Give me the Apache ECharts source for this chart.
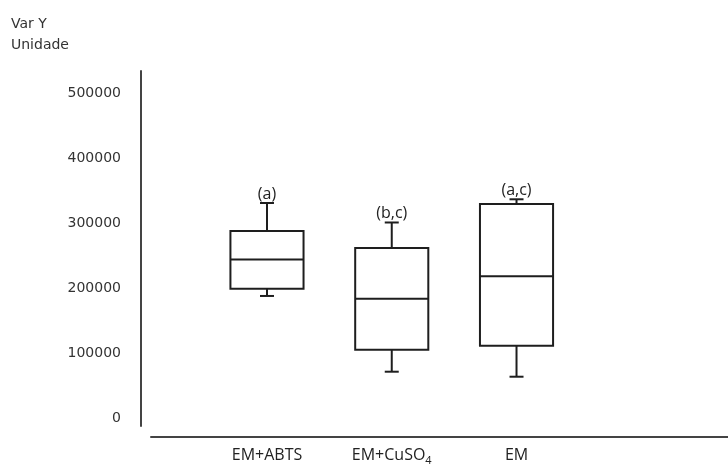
<!DOCTYPE html>
<html>
<head>
<meta charset="utf-8">
<script src="https://cdn.jsdelivr.net/npm/echarts@6/dist/echarts.min.js"></script>
<style>
  html, body { margin: 0; padding: 0; background: #fff; }
  #chart { width: 728px; height: 466px; }
</style>
</head>
<body>
<div id="chart"></div>
<script>
// Box-plot summaries per treatment
const categories   = ['EM+ABTS', 'EM+CuSO4', 'EM'];
const whiskerLow   = [188000, 71500, 63800];
const quartile1    = [199000, 105100, 111300];
const medians      = [244000, 183700, 218400];
const quartile3    = [288000, 261700, 329500];
const whiskerHigh  = [331000, 301000, 336700];
const groupLetters = ['(a)', '(b,c)', '(a,c)'];
const yTickValues  = [0, 100000, 200000, 300000, 400000, 500000];

const boxData = categories.map((c, i) => [
  i, whiskerLow[i], quartile1[i], medians[i], quartile3[i], whiskerHigh[i]
]);

const ink = '#1e1e1e';
const axisInk = '#444';

function renderBox(params, api) {
  const idx = params.dataIndex;
  const x = api.value(0);
  const pLow = api.coord([x, api.value(1)]);
  const pQ1 = api.coord([x, api.value(2)]);
  const pMed = api.coord([x, api.value(3)]);
  const pQ3 = api.coord([x, api.value(4)]);
  const pHigh = api.coord([x, api.value(5)]);
  const band = api.size([1, 0])[0];
  const half = band * 0.293;
  const cap = 7;
  const cx = pMed[0];
  const line = { stroke: ink, lineWidth: 2 };
  return {
    type: 'group',
    children: [
      { type: 'rect', shape: { x: cx - half, y: pQ3[1], width: half * 2, height: pQ1[1] - pQ3[1] },
        style: { stroke: ink, lineWidth: 2, fill: 'transparent' } },
      { type: 'line', shape: { x1: cx - half, y1: pMed[1], x2: cx + half, y2: pMed[1] }, style: line },
      { type: 'line', shape: { x1: cx, y1: pQ3[1], x2: cx, y2: pHigh[1] }, style: line },
      { type: 'line', shape: { x1: cx - cap, y1: pHigh[1], x2: cx + cap, y2: pHigh[1] }, style: line },
      { type: 'line', shape: { x1: cx, y1: pQ1[1], x2: cx, y2: pLow[1] }, style: line },
      { type: 'line', shape: { x1: cx - cap, y1: pLow[1], x2: cx + cap, y2: pLow[1] }, style: line },
      { type: 'text', x: cx, y: pHigh[1] - 1,
        style: { text: groupLetters[idx], align: 'center', verticalAlign: 'bottom',
                 fontFamily: 'Open Sans', fontSize: 16, fill: '#222' } }
    ]
  };
}

const chart = echarts.init(document.getElementById('chart'), null, { renderer: 'canvas' });
chart.setOption({
  animation: false,
  backgroundColor: '#fff',
  title: {
    text: 'Var Y\nUnidade',
    left: 11, top: 14, padding: 0,
    textStyle: { fontFamily: 'DejaVu Sans', fontSize: 14, fontWeight: 'normal', lineHeight: 21, color: '#333' }
  },
  grid: [
    { left: 204.6, right: 149.1, top: 71, bottom: 38 },
    { left: 151, right: 0, top: 430, bottom: 29 }
  ],
  xAxis: [
    {
      type: 'category', gridIndex: 0, data: categories,
      axisLine: { show: false }, axisTick: { show: false }, splitLine: { show: false },
      axisLabel: {
        interval: 0, hideOverlap: false,
        margin: 18, fontFamily: 'Open Sans', fontSize: 16, color: '#222', lineHeight: 22,
        formatter: v => v.replace(/(\d)$/, '{sub|$1}'),
        rich: { sub: { fontFamily: 'Open Sans', fontSize: 11, color: '#222', lineHeight: 22, verticalAlign: 'bottom' } }
      }
    },
    {
      type: 'value', gridIndex: 1, min: 0, max: 1,
      axisLine: { show: true, lineStyle: { color: axisInk, width: 2 } },
      axisTick: { show: false }, axisLabel: { show: false }, splitLine: { show: false }
    }
  ],
  yAxis: [
    {
      type: 'value', gridIndex: 0, min: -12000, max: 534000, offset: 63.6,
      axisLine: { show: true, lineStyle: { color: axisInk, width: 2 } },
      axisTick: { show: false }, splitLine: { show: false },
      axisLabel: {
        customValues: yTickValues, margin: 20,
        formatter: v => String(v),
        fontFamily: 'DejaVu Sans', fontSize: 14, color: '#333'
      }
    },
    { type: 'value', gridIndex: 1, show: false, min: 0, max: 1 }
  ],
  series: [
    {
      type: 'custom', xAxisIndex: 0, yAxisIndex: 0,
      renderItem: renderBox,
      encode: { x: 0, y: [1, 2, 3, 4, 5] },
      data: boxData
    }
  ]
});
</script>
</body>
</html>
